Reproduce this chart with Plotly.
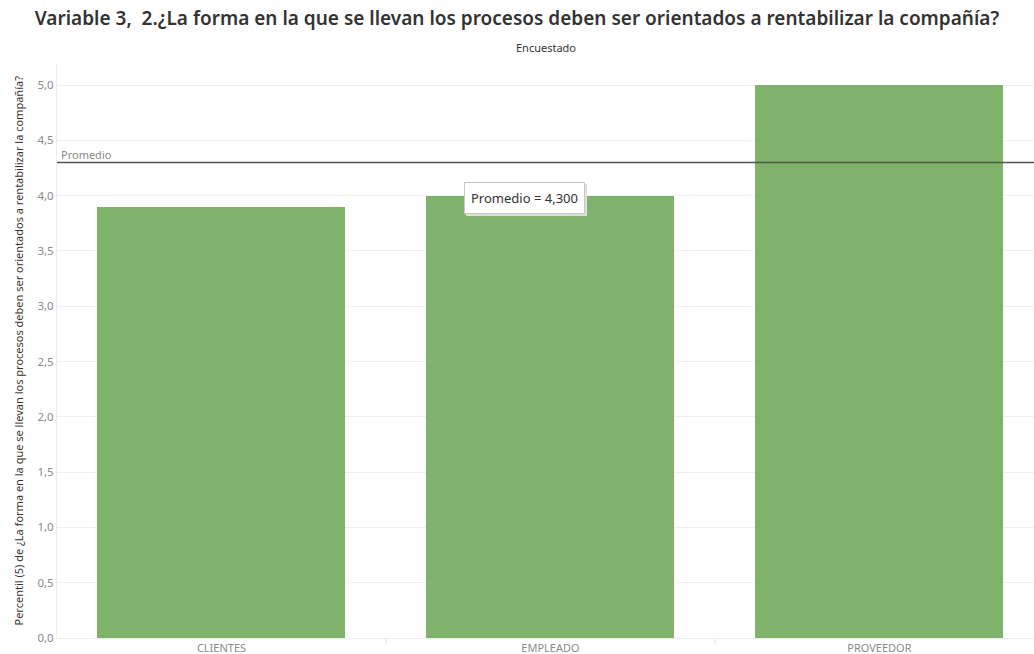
import plotly.graph_objects as go

# Respuestas por tipo de encuestado
categorias = ["CLIENTES", "EMPLEADO", "PROVEEDOR"]
percentil_5 = [3.9, 4.0, 5.0]
promedio = 4.3
ticks_y = [0, 0.5, 1.0, 1.5, 2.0, 2.5, 3.0, 3.5, 4.0, 4.5, 5.0]

titulo = "Variable 3,  2.¿La forma en la que se llevan los procesos deben ser orientados a rentabilizar la compañía?"
titulo_y = "Percentil (5) de ¿La forma en la que se llevan los procesos deben ser orientados a rentabilizar la compañía?"

verde = "#7fb26a"
gris_texto = "#8a8a8a"

fig = go.Figure()
fig.add_trace(go.Bar(
    x=list(range(len(categorias))),
    y=percentil_5,
    width=0.754,
    marker=dict(color=verde, line=dict(width=0)),
    hoverinfo="x+y",
    showlegend=False,
))

# Línea de referencia del promedio
fig.add_shape(type="line", xref="paper", yref="y", x0=0, x1=1,
              y0=promedio, y1=promedio, line=dict(color="#555555", width=1.5))
fig.add_annotation(xref="paper", yref="y", x=0.002, y=promedio, text="Promedio",
                   showarrow=False, xanchor="left", yanchor="bottom", yshift=-1,
                   font=dict(size=11, color=gris_texto, family="Noto Sans"))

# Etiqueta del promedio con sombra suave
etiqueta = "Promedio = " + f"{promedio:.3f}".replace(".", ",")
fig.add_annotation(x=0.92, y=promedio, yref="y", xref="x", text=etiqueta,
                   showarrow=False, xanchor="center", yanchor="top", yshift=-21, xshift=2,
                   bgcolor="#dedede", bordercolor="#dedede", borderwidth=1, borderpad=6,
                   font=dict(size=13, color="#dedede", family="Noto Sans"))
fig.add_annotation(x=0.92, y=promedio, yref="y", xref="x", text=etiqueta,
                   showarrow=False, xanchor="center", yanchor="top", yshift=-19,
                   bgcolor="white", bordercolor="#c8c8c8", borderwidth=1, borderpad=6,
                   font=dict(size=13, color="#333333", family="Noto Sans"))

fig.update_layout(
    width=1034, height=654,
    margin=dict(l=57, r=0, t=63, b=16),
    paper_bgcolor="white", plot_bgcolor="white",
    separators=",.",
    bargap=0,
    title=dict(text=titulo, x=0.5, xanchor="center", y=0.972, yanchor="middle",
               font=dict(size=19, color="#333333", family="Noto Sans", weight=600)),
    font=dict(family="Noto Sans", color=gris_texto),
)
fig.add_annotation(xref="paper", yref="paper", x=0.5, y=1.0, yshift=16,
                   text="Encuestado", showarrow=False, xanchor="center", yanchor="middle",
                   font=dict(size=11, color="#333333", family="Noto Sans"))
fig.add_annotation(xref="paper", yref="paper", x=0, xshift=-39, y=0.5,
                   text=titulo_y, textangle=-90, showarrow=False,
                   xanchor="center", yanchor="middle",
                   font=dict(size=11, color="#333333", family="Noto Sans"))

fig.update_xaxes(
    range=[-0.5, 2.47],
    tickmode="array", tickvals=list(range(len(categorias))), ticktext=categorias,
    tickfont=dict(size=11, color=gris_texto), showgrid=False, zeroline=False,
    showline=True, linecolor="#ececec", linewidth=1, ticks="", automargin=False,
    fixedrange=True,
)
fig.update_yaxes(
    range=[0, 5.2], tickmode="array", tickvals=ticks_y, tickformat=".1f",
    tickfont=dict(size=11.5, color=gris_texto), showgrid=True, gridcolor="#f0f0f0",
    gridwidth=1, zeroline=False, showline=True, linecolor="#ececec", linewidth=1,
    ticks="", ticklen=0, automargin=False, fixedrange=True,
)

# Separadores entre categorías en el eje
for b in [0.5, 1.5]:
    fig.add_shape(type="line", xref="x", yref="paper", x0=b, x1=b, y0=0, y1=-0.012,
                  line=dict(color="#e4e4e4", width=1))

fig.write_html("out.html")
